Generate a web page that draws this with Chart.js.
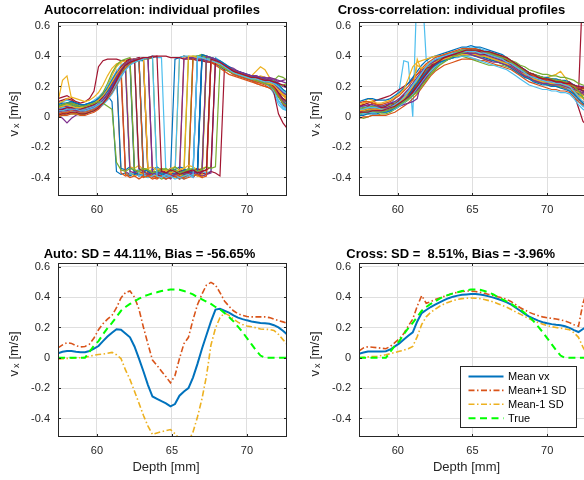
<!DOCTYPE html>
<html>
<head>
<meta charset="utf-8">
<script src="https://cdn.jsdelivr.net/npm/chart.js@4.4.1/dist/chart.umd.min.js"></script>
<style>
  html, body { margin: 0; padding: 0; background: #fff; width: 584px; height: 480px; overflow: hidden; }
  canvas { position: absolute; }
</style>
</head>
<body>
<canvas id="autoInd" style="left:0;top:0" width="292" height="240"></canvas>
<canvas id="crossInd" style="left:292px;top:0" width="300" height="240"></canvas>
<canvas id="autoStat" style="left:0;top:240px" width="292" height="240"></canvas>
<canvas id="crossStat" style="left:292px;top:240px" width="300" height="240"></canvas>
<script>
// depth samples [mm]
const depth = [57.4, 57.7, 58.0, 58.3, 58.6, 58.9, 59.2, 59.5, 59.8, 60.1, 60.4, 60.7, 61.0, 61.3, 61.6, 61.9, 62.2, 62.5, 62.8, 63.1,
  63.4, 63.7, 64.0, 64.3, 64.6, 64.9, 65.2, 65.5, 65.8, 66.1, 66.4, 66.7, 67.0, 67.3, 67.6, 67.9, 68.2, 68.5, 68.8, 69.1,
  69.4, 69.7, 70.0, 70.3, 70.6, 70.9, 71.2, 71.5, 71.8, 72.1, 72.4, 72.7];
const xTicks = [60, 65, 70];
const yTicks = [-0.4, -0.2, 0, 0.2, 0.4, 0.6];
const xMin = 57.4, xMax = 72.67, yMin = -0.522, yMax = 0.625;

const titles = ['Autocorrelation: individual profiles', 'Cross-correlation: individual profiles',
  'Auto: SD = 44.11%, Bias = -56.65%', 'Cross: SD =  8.51%, Bias = -3.96%'];
const legendLabels = ['Mean vx', 'Mean+1 SD', 'Mean-1 SD', 'True'];

// autocorrelation estimates, one row per acquisition
const autoProfiles = [
  [.03,.05,.07,.06,.05,.04,.05,.06,.08,.10,.12,.14,.10, -.36,-.38,-.37,-.39,-.37,-.38,-.36,-.37,-.39,-.38,-.37,-.36,-.38,-.39,-.37,-.38,-.36,-.37, .38,.37,.37,.36,.35,.34,.32,.31,.29,.28,.27,.26,.26,.25,.24,.23,.22,.20,.15,.10,.07],
  [.02,.03,.04,.05,.04,.03,.03,.04,.06,.09,.13,.18,.24,.30, -.37,-.39,-.38,-.36,-.38,-.40,-.37,-.38,-.39,-.37,-.38,-.40,-.38,-.37,-.39,-.38,-.36,-.37,-.39,-.38, .37,.36,.35,.33,.31,.29,.27,.26,.25,.24,.22,.21,.20,.19,.18,.15,.12,.10],
  [.10,.24,.27,.12,.08,.06,.05,.06,.08,.11,.15,.20,.27,.33,.36, -.38,-.37,-.39,-.38,-.36,-.37,-.38,-.40,-.39,-.37,-.38,-.39, .39,.40,.39,.38,.38,.39,.37,.36,.35,.33,.31,.30,.29,.28,.27,.27,.27,.30,.33,.31,.26,.22,.18,.15,.13],
  [.01,-.01,-.04,-.01,.01,.02,.02,.03,.04,.06,.09,.13,.19,.26,.31, -.36,-.38,-.37,-.39,-.38,-.37,-.39,-.40,-.38,-.39,-.41,-.38,-.37,-.39,-.38,-.40,-.37,-.38, .39,.38,.36,.35,.34,.32,.30,.29,.28,.27,.26,.26,.25,.25,.26,.25,.23,.24,.25],
  [.05,.06,.07,.08,.07,.06,.05,.06,.07,.09,.12,.15,.20,.26,.31,.34, -.37,-.38,-.36,-.37,-.39,-.38,-.37,-.36,-.38,-.37,-.39,-.38,-.36,-.37, .39,.40,.41,.40,.39,.38,.37,.35,.33,.31,.30,.28,.27,.26,.25,.24,.24,.23,.24,.22,.18,.15],
  [.08,.10,.11,.10,.09,.08,.08,.09,.11,.13,.16,.20,.25,.30,.34,.36, -.38,-.37,-.39,-.38,-.37,-.38,-.39,-.37,-.38,-.36,-.38,-.39,-.37,-.38,-.36,-.37,-.38,-.37,-.36, .39,.37,.35,.33,.31,.30,.28,.27,.26,.25,.24,.23,.22,.17,.10,.06,.04],
  [.12,.13,.14,.12,.10,.09,.10,.12,.17,.33,.37,.38,.38,.38,.37,.37,.38, -.37,-.38,-.36,-.38,-.39,-.37,-.38,-.40,-.39,-.38,-.37,-.39,-.38,-.36,-.37, .40,.39,.39,.38,.36,.34,.32,.30,.29,.28,.27,.26,.25,.24,.24,.23,.20,.14,.08,.05],
  [.03,.04,.04,.05,.04,.04,.03,.04,.05,.07,.09,.12,.16,.22,.28,.33,.35, -.38,-.37,-.39,-.38,-.37,-.38,-.39,-.38,-.37, .38,.39,.40,.39,.38,.39,.38,.37,.36,.35,.33,.31,.30,.28,.27,.26,.25,.24,.23,.23,.22,.21,.18,.13,.10,.08],
  [.06,.07,.08,.09,.08,.06,.05,.06,.08,.10,.13,.17,.22,.28,.33,.36,.37,.38, -.36,-.38,-.39,-.37,-.38,-.40,-.39,-.37,-.38,-.39,-.40,-.38,-.37,-.39,-.38,-.36, .36,.35,.34,.32,.30,.28,.27,.26,.25,.24,.23,.22,.21,.19,.17,.14,.11,.09],
  [.02,.03,.04,.04,.03,.02,.03,.04,.06,.08,.11,.15,.20,.26,.31,.35,.37,.38, -.37,-.38,-.36,-.39,-.38,-.37,-.39,-.38,-.40,-.39,-.38,-.37,-.39,-.38,-.40, .38,.37,.36,.35,.33,.31,.30,.29,.28,.27,.26,.26,.25,.25,.24,.22,.20,.17,.14],
  [.04,.05,.06,.07,.06,.05,.05,.06,.07,.09,.12,.16,.21,.27,.32,.35,.37,.38,.39, -.38,-.39,-.37,-.38,-.40,-.41,-.39,-.38,-.40,-.39,-.37,-.38, .40,.39,.38,.37,.36,.35,.34,.32,.31,.30,.29,.28,.27,.27,.26,.26,.25,.24,.22,.20,.19],
  [.01,.02,.03,.03,.02,.02,.02,.03,.05,.07,.10,.14,.19,.25,.30,.34,.36,.37,.38, -.39,-.40,-.38,-.39,-.41,-.40,-.38,-.39,-.37,-.38, .39,.40,.40,.41,.40,.39,.38,.36,.34,.32,.30,.29,.27,.26,.25,.24,.23,.23,.22,.24,.27,.26,.24],
  [.05,.06,.07,.08,.07,.06,.06,.07,.08,.11,.14,.18,.23,.29,.33,.36,.37,.38,.38, -.37,-.38,-.36,-.37,-.38,-.39,-.37,-.38,-.36,-.38,-.37,-.39,-.38,-.36,-.37, .39,.38,.36,.34,.32,.30,.28,.27,.26,.25,.24,.23,.22,.20,.15,.08,.05,.04],
  [.03,.04,.05,.05,.04,.04,.04,.05,.06,.08,.11,.15,.20,.26,.31,.35,.37,.38,.39,.38, -.38,-.37,-.39,-.38,-.37,-.38,-.39,-.40,-.38,-.37,-.39,-.38,-.37,-.38,-.36,-.37,-.39, .33,.31,.29,.28,.27,.26,.25,.24,.23,.22,.21,.16,.02,-.04,-.08],
  [.07,.08,.09,.10,.09,.08,.07,.08,.09,.11,.13,.16,.20,.25,.30,.33,.35,.36,.37,.37, -.37,-.36,-.38,-.37,-.39,-.38,-.37,-.36,-.38,-.37,-.39,-.38, .38,.37,.37,.36,.35,.33,.31,.30,.29,.28,.27,.26,.25,.24,.23,.22,.19,.14,.09,.06],
  [.02,.02,.03,.03,.03,.03,.03,.04,.05,.07,.09,.12,.16,.21,.27,.32,.35,.37,.38,.38, -.39,-.38,-.40,-.39,-.38,-.37,-.39,-.38, .40,.39,.39,.38,.37,.37,.36,.34,.32,.30,.28,.27,.26,.25,.24,.23,.22,.21,.20,.19,.17,.14,.11,.09],
  [.04,.04,.05,.06,.05,.05,.04,.05,.06,.08,.10,.13,.18,.24,.30,.34,.36,.37,.38,.38,.39, -.38,-.39,-.40,-.38,-.39,-.40,-.38,-.39,-.37,-.38,-.39,-.40, .38,.38,.37,.35,.33,.31,.30,.29,.28,.27,.27,.26,.27,.26,.24,.22,.18,.15,.13],
  [.06,.06,.07,.07,.06,.05,.05,.06,.07,.09,.12,.15,.19,.24,.29,.33,.36,.37,.38,.39,.39, -.38,-.37,-.39,-.38,-.40,-.39,-.41,-.38,-.39,-.37,-.38,-.39,-.38,-.37, .38,.36,.34,.33,.32,.30,.29,.28,.27,.27,.26,.26,.25,.25,.24,.23,.22],
  [.00,.01,.02,.02,.02,.01,.02,.03,.04,.06,.09,.13,.18,.23,.29,.33,.35,.36,.37,.38,.38,.39, -.37,-.38,-.36,-.39,-.38,-.37,-.39,-.38, .39,.40,.40,.39,.38,.37,.35,.33,.31,.29,.28,.27,.26,.25,.24,.24,.23,.22,.21,.20,.21,.22],
  [.05,.06,.06,.07,.06,.05,.05,.06,.07,.09,.12,.16,.21,.27,.32,.35,.37,.38,.38,.39,.39,.40,.39,.39, -.38,-.39,-.37, .39,.40,.40,.39,.39,.38,.38,.37,.36,.35,.33,.31,.30,.28,.27,.26,.25,.24,.23,.22,.21,.17,.11,.07,.05],
  [.10,.11,.12,.11,.09,.08,.07,.08,.09,.11,.14,.18,.23,.28,.32,.35,.36,.37,.38,.38,.39,.39,.40,.40,.40,.39,.39,.39,.38,.38,.38,.37,.37,.36,.36,.35,.34,.33,.31,.29,.28,.27,.26,.25,.24,.23,.23,.22,.21,.18,.15,.13],
  [.06,.08,.09,.08,.07,.07,.08,.09,.10,.12,.15,.19,.24,.29, -.34,-.35,-.33,-.36,-.35,-.34,-.36,-.35,-.33,-.35,-.36,-.34,-.35,-.33,-.34,-.36,-.35,-.34, .39,.38,.37,.36,.35,.33,.31,.30,.28,.27,.26,.25,.24,.24,.23,.22,.20,.16,.12,.09],
  [.00,.01,.01,.02,.02,.01,.01,.02,.03,.05,.08,.12,.17,.23,.29, -.38,-.40,-.39,-.41,-.39,-.38,-.40,-.41,-.39,-.40,-.38,-.39,-.41,-.40,-.39, .38,.39,.38,.37,.36,.35,.34,.32,.30,.29,.28,.27,.26,.25,.24,.23,.22,.21,.19,.16,.14,.12],
  [.09,.10,.12,.13,.12,.11,.10,.11,.13,.16,.21,.27,.32,.35,.36,.37, -.33,-.34,-.32,-.35,-.34,-.33,-.35,-.34,-.36,-.34,-.33,-.35,-.34,-.32,-.33,-.35,-.34,-.33, .37,.36,.35,.33,.32,.30,.29,.28,.27,.26,.25,.25,.24,.23,.21,.18,.14,.11],
  [.04,.05,.05,.06,.05,.04,.04,.05,.06,.08,.10,.13,.17,.22,.27,.31, -.36,-.37,-.35,-.36,-.38,-.37,-.36,-.35,-.37,-.36,-.38,-.37, .38,.39,.39,.38,.38,.37,.37,.36,.35,.34,.32,.30,.28,.27,.26,.25,.24,.23,.22,.22,.20,.15,.10,.06],
  [.07,.07,.08,.08,.07,.06,.06,.07,.09,.12,.16,.22,.29,.34,.37,.38,.39, -.35,-.36,-.34,-.35,-.37,-.36,-.34,-.35,-.36,-.33,-.35,-.36,-.34,-.35,-.36,-.34, .39,.38,.37,.36,.34,.32,.30,.29,.28,.27,.26,.25,.25,.24,.23,.22,.20,.17,.14],
  [.03,.03,.04,.04,.03,.03,.03,.04,.05,.06,.08,.11,.15,.20,.26,.31,.35,.37, -.39,-.38,-.40,-.39,-.37,-.38,-.40,-.39,-.38,-.40,-.41,-.39,-.38, .40,.39,.38,.38,.37,.36,.34,.32,.31,.29,.28,.27,.26,.25,.24,.23,.22,.21,.19,.16,.13],
  [.05,.05,.06,.06,.05,.05,.06,.07,.08,.10,.13,.17,.22,.28,.33,.36,.38,.38, -.34,-.36,-.35,-.37,-.36,-.35,-.37,-.36,-.38,-.36,-.35,-.37,-.36,-.34,-.36,-.35,-.33, .36,.35,.33,.31,.30,.28,.27,.26,.25,.25,.24,.23,.22,.20,.16,.12,.10],
  [.08,.09,.09,.10,.09,.08,.08,.09,.10,.12,.14,.17,.21,.26,.31,.34,.36,.37,.38, -.36,-.35,-.37,-.36,-.38,-.37,-.36,-.38,-.37,-.35,-.36,-.37,-.36, .41,.40,.39,.38,.37,.35,.33,.31,.30,.29,.28,.27,.26,.26,.25,.24,.23,.21,.18,.16],
  [.02,.03,.03,.04,.04,.03,.03,.04,.05,.07,.09,.12,.16,.21,.27,.32,.35,.37,.38, -.40,-.39,-.41,-.40,-.39,-.41,-.40,-.38,-.39,-.41,-.40,-.39,-.38,-.40,-.39, .37,.36,.35,.34,.32,.31,.29,.28,.27,.26,.25,.24,.23,.22,.19,.14,.09,.06],
  [.06,.07,.08,.07,.06,.06,.07,.08,.09,.11,.14,.18,.23,.28,.32,.35,.37,.38,.38,.39, -.35,-.36,-.34,-.36,-.35,-.37,-.36,-.35,-.34, .40,.40,.39,.39,.38,.37,.36,.34,.32,.30,.29,.28,.27,.26,.25,.24,.23,.22,.22,.21,.18,.15,.13],
  [.03,.04,.04,.05,.04,.04,.04,.05,.06,.08,.11,.15,.20,.26,.31,.35,.37,.38,.38,.39,.39, -.37,-.38,-.36,-.37,-.39,-.38,-.37,-.36,-.38,-.37,-.36,-.37, .40,.39,.38,.36,.34,.32,.31,.30,.29,.28,.27,.27,.26,.25,.24,.22,.19,.16,.14],
  [.07,.08,.09,.09,.08,.07,.07,.08,.09,.10,.09,.07,.05, -.30,-.35,-.36,-.34,-.35,-.36,-.34,-.35,-.37,-.36,-.35,-.34,-.36,-.35,-.37,-.36,-.35,-.34,-.36,-.35,-.33,-.34,-.33, .34,.32,.30,.29,.28,.27,.26,.25,.24,.23,.22,.21,.18,.13,.09,.07],
  [.04,.04,.05,.05,.05,.04,.04,.05,.06,.08,.10,.13,.17,.22,.27,.31,.34,.36,.37,.38,.39,.40, -.39,-.40,-.38,-.39,-.41,-.40,-.39,-.38,-.40, .39,.39,.38,.37,.36,.35,.33,.31,.29,.28,.27,.26,.25,.25,.24,.23,.23,.22,.20,.17,.15],
  [.01,.02,.02,.03,.03,.02,.02,.03,.04,.06,.09,.13,.18,.24,.30,.34,.36,.37,.38,.39,.39,.40,.40, -.36,-.37,-.35,-.36,-.38,-.37,-.36,-.35,-.37,-.36,-.35, .38,.37,.36,.34,.32,.30,.29,.28,.27,.26,.26,.25,.24,.24,.23,.22,.21,.20]
];

// cross-correlation estimates, one row per acquisition
const crossProfiles = [
  [.04,.05,.05,.05,.05,.05,.05,.06,.08,.10,.13,.15,.18,.22,.26,.30,.33,.35,.37,.39,.40,.41,.42,.43,.43,.43,.43,.42,.42,.41,.40,.39,.38,.37,.35,.33,.31,.29,.28,.26,.25,.24,.23,.23,.22,.22,.21,.20,.19,.17,.15,.13],
  [.02,.03,.03,.03,.03,.03,.04,.05,.06,.08,.10,.12,.15,.19,.24,.28,.31,.34,.36,.38,.39,.40,.41,.42,.42,.42,.42,.41,.40,.39,.39,.38,.37,.35,.34,.32,.30,.28,.26,.25,.24,.23,.22,.22,.21,.21,.20,.19,.16,.12,.09,.08],
  [.06,.09,.12,.11,.08,.07,.06,.07,.09,.11,.14,.17,.20,.25,.30,.34,.36,.37,.38,.39,.40,.41,.42,.43,.44,.44,.43,.42,.41,.40,.39,.38,.37,.35,.34,.32,.30,.28,.27,.26,.25,.25,.26,.27,.28,.30,.26,.22,.19,.17,.15,.14],
  [.03,.04,.04,.05,.05,.05,.05,.06,.07,.09,.11,.13,.16,.19,.23,.27,.31,.34,.37,.39,.41,.42,.43,.44,.44,.44,.43,.43,.42,.42,.41,.40,.39,.38,.36,.34,.32,.30,.28,.27,.26,.25,.24,.24,.23,.23,.22,.22,.20,.18,.17,.16],
  [.00,-.01,.00,.01,.01,.02,.02,.03,.05,.07,.10,.13,.16,.20,.24,.28,.31,.33,.35,.37,.38,.39,.40,.40,.39,.38,.37,.36,.35,.34,.34,.34,.34,.33,.32,.30,.28,.27,.25,.24,.23,.22,.21,.20,.20,.19,.19,.18,.16,.12,.08,.06],
  [.04,.05,.06,.06,.06,.06,.06,.08,.12,.18,.37,.36,.00,.90,.90,.38,.34,.36,.38,.40,.41,.42,.43,.44,.44,.45,.45,.44,.43,.42,.41,.40,.38,.37,.35,.33,.31,.29,.27,.26,.25,.24,.23,.23,.22,.22,.21,.19,.16,.12,.08,.05],
  [.07,.08,.09,.10,.11,.12,.13,.14,.16,.18,.20,.22,.25,.28,.31,.33,.35,.37,.38,.40,.41,.41,.42,.42,.42,.42,.42,.41,.40,.40,.39,.38,.37,.36,.34,.32,.30,.28,.27,.25,.24,.23,.23,.22,.22,.21,.21,.20,.19,.15,.90,.90],
  [.02,.03,.03,.03,.03,.03,.03,.04,.06,.08,.10,.12,.15,.18,.22,.26,.30,.33,.35,.37,.38,.39,.40,.41,.41,.41,.41,.41,.40,.40,.39,.38,.37,.36,.34,.32,.30,.28,.27,.25,.24,.23,.22,.22,.21,.21,.20,.19,.17,.15,.12,.10],
  [.05,.06,.07,.07,.06,.06,.06,.07,.08,.10,.13,.16,.20,.24,.28,.31,.33,.35,.37,.38,.39,.40,.41,.41,.42,.42,.41,.41,.40,.39,.38,.37,.36,.35,.33,.31,.29,.27,.26,.24,.23,.22,.22,.21,.21,.20,.19,.17,.14,.11,.10,.12],
  [.03,.04,.05,.05,.04,.04,.05,.06,.07,.09,.12,.15,.18,.38,.30,.31,.33,.35,.37,.39,.40,.41,.42,.42,.43,.43,.43,.42,.42,.41,.40,.39,.38,.37,.35,.33,.31,.29,.28,.27,.26,.26,.25,.25,.24,.24,.23,.21,.19,.17,.16,.16],
  [.05,.06,.06,.07,.07,.06,.06,.07,.08,.10,.12,.14,.16,.19,.22,.26,.30,.33,.36,.38,.40,.41,.42,.42,.43,.43,.43,.42,.41,.40,.40,.39,.38,.37,.35,.33,.31,.29,.28,.26,.25,.24,.24,.23,.23,.22,.22,.21,.20,.19,.18,.17],
  [.01,.02,.02,.03,.03,.03,.03,.04,.05,.07,.09,.11,.14,.17,.21,.25,.29,.32,.35,.37,.38,.39,.40,.40,.41,.41,.41,.40,.40,.39,.38,.37,.36,.35,.33,.31,.29,.27,.25,.24,.23,.22,.21,.21,.20,.20,.19,.18,.15,.13,.14,.15],
  [.03,.04,.04,.04,.05,.05,.05,.06,.08,.10,.13,.16,.20,.24,.28,.32,.35,.37,.39,.40,.41,.42,.43,.44,.45,.46,.46,.45,.44,.43,.42,.41,.39,.38,.36,.34,.32,.30,.28,.27,.25,.24,.23,.22,.21,.20,.19,.17,.14,.10,.07,.05],
  [.04,.05,.05,.06,.06,.05,.05,.06,.07,.09,.11,.13,.15,.18,.22,.26,.30,.33,.36,.38,.40,.41,.42,.42,.42,.42,.42,.41,.41,.40,.39,.38,.37,.36,.34,.32,.30,.29,.27,.26,.25,.24,.23,.23,.22,.22,.21,.19,.15,.06,-.03,-.06],
  [.05,.06,.06,.06,.05,.05,.05,.06,.08,.10,.12,.15,.18,.22,.26,.30,.33,.35,.37,.38,.39,.40,.41,.41,.42,.42,.42,.41,.41,.40,.39,.38,.37,.36,.35,.33,.31,.29,.27,.26,.25,.24,.23,.22,.22,.21,.21,.20,.19,.18,.19,.20],
  [.03,.04,.04,.04,.04,.04,.04,.05,.07,.09,.11,.14,.17,.21,.25,.29,.32,.34,.36,.38,.39,.40,.41,.41,.42,.42,.42,.41,.41,.40,.39,.38,.37,.35,.34,.32,.30,.28,.26,.25,.24,.23,.22,.22,.21,.20,.19,.18,.16,.13,.09,.07],
  [.04,.05,.06,.06,.05,.05,.05,.06,.07,.09,.12,.15,.19,.23,.28,.32,.35,.37,.38,.39,.40,.41,.42,.43,.43,.43,.43,.42,.42,.41,.40,.39,.38,.37,.35,.34,.32,.30,.29,.27,.26,.25,.25,.24,.24,.24,.23,.22,.21,.19,.18,.18],
  [.02,.03,.03,.04,.04,.04,.04,.05,.06,.08,.10,.12,.15,.18,.22,.26,.30,.33,.36,.38,.40,.41,.42,.43,.43,.43,.43,.43,.42,.42,.41,.40,.39,.38,.37,.35,.33,.31,.29,.28,.27,.26,.25,.25,.24,.24,.23,.22,.21,.20,.20,.21],
  [.02,.03,.03,.03,.03,.03,.04,.05,.06,.08,.10,.13,.16,.20,.24,.28,.31,.34,.36,.38,.39,.40,.41,.41,.41,.41,.40,.39,.38,.37,.37,.36,.35,.34,.33,.31,.29,.27,.26,.24,.23,.22,.22,.21,.21,.20,.20,.19,.17,.16,.16,.17],
  [.06,.07,.07,.07,.07,.07,.07,.08,.10,.12,.15,.18,.22,.26,.30,.33,.35,.37,.38,.39,.40,.41,.42,.42,.43,.43,.43,.42,.41,.40,.39,.38,.37,.36,.34,.32,.30,.28,.27,.25,.24,.23,.22,.22,.21,.21,.20,.18,.14,.10,.07,.06],
  [.03,.04,.04,.05,.05,.05,.05,.06,.07,.09,.11,.14,.17,.20,.24,.28,.32,.35,.37,.39,.40,.41,.42,.42,.43,.43,.42,.42,.41,.41,.40,.39,.38,.37,.36,.34,.32,.30,.28,.27,.26,.25,.24,.24,.23,.23,.22,.21,.19,.18,.19,.20],
  [.10,.11,.12,.12,.11,.11,.11,.12,.14,.16,.19,.22,.26,.30,.34,.37,.39,.40,.41,.42,.43,.44,.45,.46,.46,.47,.46,.46,.45,.44,.43,.42,.41,.39,.37,.35,.33,.31,.29,.28,.27,.26,.26,.25,.25,.24,.24,.23,.21,.19,.17,.16],
  [-.01,.00,.00,.01,.01,.01,.01,.02,.03,.05,.07,.09,.12,.15,.19,.23,.27,.30,.32,.34,.35,.36,.37,.38,.38,.38,.38,.37,.37,.36,.35,.34,.33,.32,.31,.29,.27,.25,.23,.22,.21,.20,.19,.18,.18,.17,.17,.16,.13,.10,.08,.07],
  [.08,.09,.10,.10,.09,.09,.10,.11,.13,.15,.18,.25,.33,.36,.37,.38,.39,.40,.40,.41,.42,.42,.43,.43,.43,.43,.42,.42,.41,.40,.39,.38,.37,.36,.34,.32,.30,.28,.26,.25,.24,.23,.22,.22,.21,.21,.20,.19,.17,.14,.12,.11],
  [.03,.03,.04,.04,.04,.04,.04,.05,.06,.07,.08,.09,.10,.12,.25,.30,.33,.35,.37,.38,.39,.40,.41,.42,.42,.42,.42,.41,.41,.40,.39,.38,.37,.36,.34,.32,.30,.28,.27,.26,.25,.24,.23,.23,.22,.22,.21,.20,.18,.16,.15,.15],
  [.05,.06,.06,.07,.07,.07,.07,.08,.09,.11,.13,.16,.19,.23,.27,.31,.34,.36,.38,.40,.41,.42,.43,.44,.44,.44,.44,.43,.43,.42,.42,.41,.40,.39,.37,.36,.34,.33,.31,.30,.29,.28,.28,.27,.27,.26,.26,.25,.24,.22,.21,.20],
  [.02,.02,.03,.03,.03,.03,.03,.04,.05,.07,.09,.12,.15,.19,.23,.27,.30,.33,.35,.37,.38,.39,.39,.40,.40,.39,.38,.37,.36,.35,.34,.33,.32,.31,.29,.27,.25,.23,.21,.20,.19,.18,.18,.17,.17,.16,.16,.15,.12,.08,.05,.03],
  [.06,.08,.07,.09,.08,.06,.07,.09,.08,.11,.14,.15,.19,.22,.27,.32,.33,.37,.36,.40,.40,.42,.41,.43,.42,.44,.43,.43,.41,.42,.40,.40,.38,.38,.35,.34,.31,.30,.28,.28,.25,.26,.24,.25,.23,.24,.22,.23,.20,.19,.17,.18],
  [.01,.01,.02,.02,.02,.03,.03,.04,.06,.08,.11,.14,.18,.22,.26,.29,.32,.34,.36,.37,.38,.39,.40,.41,.41,.41,.40,.40,.39,.38,.37,.36,.35,.34,.32,.30,.28,.26,.25,.23,.22,.21,.21,.20,.20,.19,.18,.17,.15,.12,.09,.06],
  [.09,.10,.10,.09,.08,.08,.09,.10,.12,.14,.17,.20,.24,.28,.32,.35,.37,.39,.40,.41,.42,.43,.44,.45,.45,.45,.45,.44,.43,.42,.41,.40,.39,.38,.36,.34,.32,.30,.29,.27,.26,.25,.24,.24,.23,.23,.22,.21,.20,.19,.19,.20],
  [.04,.04,.05,.05,.05,.05,.05,.06,.07,.09,.12,.16,.20,.34,.32,.33,.35,.36,.37,.38,.39,.40,.40,.41,.41,.41,.41,.40,.40,.39,.38,.37,.36,.35,.33,.31,.29,.28,.26,.25,.24,.23,.23,.22,.22,.21,.21,.20,.18,.16,.14,.13],
  [.07,.07,.08,.08,.07,.07,.08,.09,.10,.12,.15,.18,.22,.26,.30,.33,.35,.37,.39,.40,.41,.41,.42,.42,.42,.41,.40,.39,.38,.37,.36,.36,.35,.34,.33,.31,.29,.27,.26,.24,.23,.22,.22,.21,.21,.21,.20,.19,.18,.17,.16,.16],
  [.02,.03,.04,.04,.03,.03,.04,.05,.06,.08,.10,.12,.14,.16,.20,.24,.28,.31,.34,.36,.38,.40,.41,.42,.43,.44,.44,.44,.43,.42,.41,.40,.39,.38,.36,.34,.32,.30,.29,.28,.27,.26,.25,.25,.24,.24,.23,.22,.20,.17,.13,.10],
  [.05,.05,.06,.06,.06,.05,.05,.06,.08,.10,.13,.17,.21,.25,.29,.33,.36,.38,.39,.40,.41,.42,.42,.43,.43,.43,.43,.42,.42,.41,.40,.39,.38,.36,.35,.33,.31,.29,.27,.26,.25,.24,.23,.23,.22,.22,.21,.20,.17,.13,.10,.08],
  [.03,.03,.03,.04,.04,.04,.05,.06,.07,.09,.11,.13,.16,.20,.24,.28,.32,.35,.37,.39,.40,.41,.42,.43,.44,.44,.44,.44,.43,.43,.42,.41,.40,.39,.37,.35,.33,.31,.29,.28,.26,.25,.25,.24,.23,.23,.22,.22,.21,.20,.19,.18]
];

const autoMean = [.03,.04,.045,.045,.04,.037,.037,.045,.06,.078,.11,.14,.165,.188,.185,.16,.135,.075,-.005,-.09,
  -.18,-.255,-.27,-.286,-.3,-.32,-.305,-.25,-.222,-.2,-.13,-.04,.06,.15,.24,.318,.323,.31,.298,.28,
  .265,.255,.247,.24,.235,.23,.228,.225,.215,.2,.178,.152];
const autoPlus = [.065,.085,.1,.095,.08,.072,.075,.09,.13,.185,.225,.255,.28,.33,.395,.43,.44,.40,.32,.2,
  .09,-.015,-.05,-.088,-.125,-.165,-.117,-.005,.094,.135,.25,.35,.42,.48,.497,.48,.43,.375,.34,.31,
  .29,.28,.272,.27,.27,.27,.27,.265,.255,.245,.237,.228];
const autoMinus = [-.008,-.006,-.004,-.002,0,0,.004,.01,.017,.022,.025,.03,.036,.02,-.005,-.08,-.143,-.22,-.3,-.38,
  -.45,-.506,-.495,-.487,-.48,-.473,-.5,-.535,-.56,-.55,-.49,-.39,-.27,-.12,.085,.195,.265,.295,.28,.255,
  .235,.22,.21,.205,.198,.19,.188,.187,.18,.155,.12,.085];
const crossMean = [.027,.035,.042,.042,.042,.042,.043,.055,.075,.095,.12,.145,.168,.24,.295,.315,.335,.35,.365,.38,
  .393,.403,.41,.415,.418,.42,.42,.417,.412,.405,.397,.388,.378,.365,.35,.33,.31,.29,.272,.258,
  .245,.235,.228,.222,.218,.215,.208,.197,.182,.17,.19,.21];
const crossPlus = [.045,.065,.073,.07,.067,.063,.06,.075,.1,.125,.16,.21,.255,.34,.41,.36,.37,.385,.395,.405,
  .415,.425,.432,.437,.44,.44,.437,.432,.425,.418,.41,.402,.395,.385,.37,.35,.33,.315,.3,.288,
  .278,.27,.264,.26,.256,.25,.243,.232,.218,.208,.36,.45];
const crossMinus = [0,.003,.006,.008,.01,.015,.02,.027,.035,.043,.05,.06,.075,.14,.22,.27,.3,.32,.34,.355,
  .367,.377,.385,.39,.393,.394,.393,.39,.385,.377,.368,.357,.345,.333,.318,.302,.288,.273,.258,.245,
  .233,.222,.213,.205,.2,.195,.19,.185,.165,.135,.07,.02];
const trueVx = [0,0,0,0,0,0,0,.04,.08,.11,.155,.195,.23,.27,.31,.335,.355,.372,.39,.405,
  .415,.425,.432,.44,.445,.45,.45,.448,.44,.43,.418,.40,.385,.37,.355,.335,.32,.295,.27,.24,
  .205,.17,.13,.09,.05,.015,0,0,0,0,0,0];

const FONT = '"Liberation Sans", Arial, Helvetica, sans-serif';
const INK = '#262626';
const GRID = '#dfdfdf';
const COLORS = ['#0072BD', '#D95319', '#EDB120', '#7E2F8E', '#77AC30', '#4DBEEE', '#A2142F'];

// box, inside ticks, titles, axis labels and legend, drawn on top of the lines
const decor = {
  id: 'decor',
  afterDatasetsDraw(chart, args, o) {
    const ctx = chart.ctx, a = chart.chartArea;
    const xs = chart.scales.x, ys = chart.scales.y;
    ctx.save();
    ctx.strokeStyle = INK;
    ctx.lineWidth = 1;
    ctx.beginPath();
    xTicks.forEach(v => {
      const px = Math.round(xs.getPixelForValue(v)) + 0.5;
      ctx.moveTo(px, a.bottom); ctx.lineTo(px, a.bottom - 3);
      ctx.moveTo(px, a.top); ctx.lineTo(px, a.top + 3);
    });
    yTicks.forEach(v => {
      const py = Math.round(ys.getPixelForValue(v)) + 0.5;
      ctx.moveTo(a.left, py); ctx.lineTo(a.left + 3, py);
      ctx.moveTo(a.right, py); ctx.lineTo(a.right - 3, py);
    });
    ctx.stroke();
    ctx.strokeRect(a.left + 0.5, a.top + 0.5, a.right - a.left - 1, a.bottom - a.top - 1);

    // title
    ctx.fillStyle = '#000';
    ctx.font = 'bold 13px ' + FONT;
    ctx.textAlign = 'center';
    ctx.textBaseline = 'alphabetic';
    ctx.fillText(o.title, o.titleX, o.titleY);

    // y label: v with subscript x
    ctx.save();
    ctx.translate(a.left - 44, 114);
    ctx.rotate(-Math.PI / 2);
    ctx.fillStyle = INK;
    ctx.textAlign = 'left';
    ctx.textBaseline = 'middle';
    ctx.font = '13px ' + FONT;
    const wV = ctx.measureText('v').width, wU = ctx.measureText('[m/s]').width;
    ctx.font = '9px ' + FONT;
    const wX = ctx.measureText('x').width;
    const x0 = -(wV + 2 + wX + 4 + wU) / 2;
    ctx.font = '13px ' + FONT;
    ctx.fillText('v', x0, 0);
    ctx.font = '9px ' + FONT;
    ctx.fillText('x', x0 + wV + 2, 3);
    ctx.font = '13px ' + FONT;
    ctx.fillText('[m/s]', x0 + wV + 2 + wX + 4, 0);
    ctx.restore();

    if (o.xLabel) {
      ctx.fillStyle = INK;
      ctx.font = '13px ' + FONT;
      ctx.textAlign = 'center';
      ctx.textBaseline = 'middle';
      ctx.fillText(o.xLabel, (a.left + a.right) / 2 - 6.5, a.bottom + 30.5);
    }

    if (o.legend) {
      const bx = a.left + 101, by = a.top + 103, bw = 116, bh = 61;
      ctx.fillStyle = '#fff';
      ctx.fillRect(bx, by, bw, bh);
      ctx.strokeStyle = INK;
      ctx.lineWidth = 1;
      ctx.strokeRect(bx + 0.5, by + 0.5, bw, bh);
      chart.data.datasets.forEach((ds, i) => {
        const yy = by + 10.5 + i * 13.9;
        ctx.save();
        ctx.strokeStyle = ds.borderColor;
        ctx.lineWidth = ds.borderWidth;
        ctx.setLineDash(ds.borderDash || []);
        ctx.beginPath();
        ctx.moveTo(bx + 8.5, yy);
        ctx.lineTo(bx + 43.5, yy);
        ctx.stroke();
        ctx.restore();
        ctx.fillStyle = '#000';
        ctx.font = '11px ' + FONT;
        ctx.textAlign = 'left';
        ctx.textBaseline = 'middle';
        ctx.fillText(ds.label, bx + 48, yy + 0.5);
      });
    }
    ctx.restore();
  }
};

function makePanel(id, area, datasets, deco) {
  const canvas = document.getElementById(id);
  const W = canvas.width, H = canvas.height, xAxisH = 20;
  return new Chart(canvas, {
    type: 'line',
    data: { labels: depth, datasets: datasets },
    options: {
      responsive: false,
      animation: false,
      events: [],
      layout: { padding: { left: 0, top: area.t, right: W - area.r, bottom: H - area.b - xAxisH } },
      plugins: { legend: { display: false }, tooltip: { enabled: false }, title: { display: false }, decor: deco },
      scales: {
        x: {
          type: 'linear', min: xMin, max: xMax,
          afterBuildTicks: s => { s.ticks = xTicks.map(v => ({ value: v })); },
          afterFit: s => { s.height = xAxisH; },
          grid: { color: GRID, drawTicks: false },
          border: { display: false },
          ticks: { color: INK, font: { family: FONT, size: 11 }, padding: 7, maxRotation: 0, callback: v => String(v) }
        },
        y: {
          type: 'linear', min: yMin, max: yMax,
          afterBuildTicks: s => { s.ticks = yTicks.map(v => ({ value: v })); },
          afterFit: s => { s.width = area.l; },
          grid: { color: GRID, drawTicks: false },
          border: { display: false },
          ticks: { color: INK, font: { family: FONT, size: 11 }, padding: 8, callback: v => String(Math.round(v * 10) / 10) }
        }
      }
    },
    plugins: [decor]
  });
}

function profileSets(rows) {
  return rows.map((vals, i) => ({
    data: vals, borderColor: COLORS[i % COLORS.length], borderWidth: 1.2,
    pointRadius: 0, tension: 0, fill: false, order: -i
  }));
}

function statSets(mean, plus, minus) {
  const dashDot = [6, 2.5, 1.5, 2.5];
  return [
    { label: legendLabels[0], data: mean, borderColor: '#0072BD', borderWidth: 2, order: 0 },
    { label: legendLabels[1], data: plus, borderColor: '#D95319', borderWidth: 1.6, borderDash: dashDot, order: -1 },
    { label: legendLabels[2], data: minus, borderColor: '#EDB120', borderWidth: 1.6, borderDash: dashDot, order: -2 },
    { label: legendLabels[3], data: trueVx, borderColor: '#00FF00', borderWidth: 2, borderDash: [7, 4.5], order: -3 }
  ].map(d => Object.assign({ pointRadius: 0, tension: 0, fill: false }, d));
}

makePanel('autoInd', { l: 58, r: 287, t: 22, b: 196 }, profileSets(autoProfiles),
  { title: titles[0], titleX: 152, titleY: 14 });
makePanel('crossInd', { l: 67, r: 295, t: 22, b: 196 }, profileSets(crossProfiles),
  { title: titles[1], titleX: 159.5, titleY: 14 });
makePanel('autoStat', { l: 58, r: 287, t: 23, b: 197 }, statSets(autoMean, autoPlus, autoMinus),
  { title: titles[2], titleX: 149.5, titleY: 17.5, xLabel: 'Depth [mm]' });
makePanel('crossStat', { l: 67, r: 295, t: 23, b: 197 }, statSets(crossMean, crossPlus, crossMinus),
  { title: titles[3], titleX: 158.7, titleY: 17.5, xLabel: 'Depth [mm]', legend: true });

const bad = [];
autoProfiles.concat(crossProfiles).forEach((r, i) => { if (r.length !== depth.length) bad.push(i + ':' + r.length); });
if (bad.length) throw new Error('length mismatch ' + bad.join(' '));
</script>
</body>
</html>
